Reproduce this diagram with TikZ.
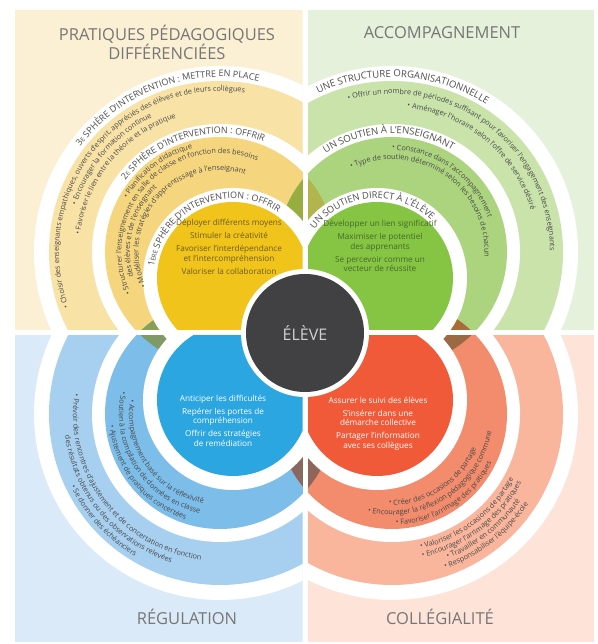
\documentclass[tikz,border=0pt]{standalone}
\usepackage{fontspec}
\setmainfont{Open Sans}
\usetikzlibrary{decorations.text}
\definecolor{ylbg}{HTML}{FCF0D4}
\definecolor{ylr3}{HTML}{F8E2A6}
\definecolor{ylr2}{HTML}{F5D67E}
\definecolor{yld}{HTML}{F0C41B}
\definecolor{grbg}{HTML}{E5F1DA}
\definecolor{grr3}{HTML}{C9E3AB}
\definecolor{grr2}{HTML}{ACD47F}
\definecolor{grd}{HTML}{86C443}
\definecolor{blbg}{HTML}{DBEAF8}
\definecolor{blr3}{HTML}{A7D0F0}
\definecolor{blr2}{HTML}{7DBDE9}
\definecolor{bld}{HTML}{2BA6E0}
\definecolor{rdbg}{HTML}{FDE3D8}
\definecolor{rdr3}{HTML}{F9B69C}
\definecolor{rdr2}{HTML}{F38C6C}
\definecolor{rdd}{HTML}{F05A39}
\definecolor{ctr}{HTML}{414042}
\definecolor{lensTa}{HTML}{98AD3F}
\definecolor{lensTb}{HTML}{B1B54C}
\definecolor{lensLa}{HTML}{88A055}
\definecolor{lensLb}{HTML}{7F9A66}
\definecolor{lensRa}{HTML}{A86C3A}
\definecolor{lensRb}{HTML}{9B6A45}
\definecolor{lensBa}{HTML}{8A6862}
\definecolor{lensBb}{HTML}{8F645A}
\definecolor{ttl}{HTML}{767676}
\definecolor{lbl}{HTML}{4D4D4D}
\definecolor{itm}{HTML}{484848}
\definecolor{ydtxt}{HTML}{6E5B1E}
\definecolor{gdtxt}{HTML}{46692B}
\newcommand\itf{\fontsize{7.3}{8}\selectfont}
\newcommand\lbf{\fontsize{9}{10}\selectfont}
\newcommand\lbs{\fontsize{6.3}{7}\selectfont}
\newcommand\lbg{\fontsize{9.6}{10}\selectfont}
\newcommand\lbd{\fontsize{9.3}{10}\selectfont}
\newcommand\atext[6]{\path[shift={(#1)},decorate,decoration={text along path,text align=left,text color=#5,text={#6}}] (#3:#2) arc[start angle=#3,end angle=#4,radius=#2];}
\tikzset{
  title/.style={text=ttl,font=\fontsize{16.5}{19.5}\selectfont,align=center},
  disktext/.style={font=\fontsize{8.2}{9.5}\selectfont,align=center},
}
\begin{document}
\begin{tikzpicture}[x=1pt,y=1pt]
\useasboundingbox (0,0) rectangle (597,644);
\fill[white] (0,0) rectangle (597,644);
\coordinate (RTL) at (220,392); \coordinate (RTR) at (392,392);
\coordinate (RBL) at (220,230); \coordinate (RBR) at (392,230);
\coordinate (DTL) at (233,366); \coordinate (DTR) at (377,366);
\coordinate (DBL) at (233,244); \coordinate (DBR) at (377,244);
\coordinate (O) at (305,311);
% quadrants: background + outer ring
\begin{scope}\clip (15,313.5) rectangle (302.5,634);
 \fill[ylbg] (15,313.5) rectangle (302.5,634);
 \fill[white] (RTL) circle[radius=186]; \fill[ylr3] (RTL) circle[radius=171];
\end{scope}
\begin{scope}\clip (307.5,313.5) rectangle (594,634);
 \fill[grbg] (307.5,313.5) rectangle (594,634);
 \fill[white] (RTR) circle[radius=186]; \fill[grr3] (RTR) circle[radius=171];
\end{scope}
\begin{scope}\clip (15,2) rectangle (302.5,308.5);
 \fill[blbg] (15,2) rectangle (302.5,308.5);
 \fill[white] (RBL) circle[radius=186]; \fill[blr3] (RBL) circle[radius=171];
\end{scope}
\begin{scope}\clip (307.5,2) rectangle (594,308.5);
 \fill[rdbg] (307.5,2) rectangle (594,308.5);
 \fill[white] (RBR) circle[radius=186]; \fill[rdr3] (RBR) circle[radius=171];
\end{scope}
% second rings
\foreach \c in {RTL,RTR,RBL,RBR} \fill[white] (\c) circle[radius=128];
\fill[ylr2] (RTL) circle[radius=115];
\fill[grr2] (RTR) circle[radius=115];
\fill[blr2] (RBL) circle[radius=115];
\fill[rdr2] (RBR) circle[radius=115];
% overlaps
\begin{scope}\clip (RTL) circle[radius=115]; \clip (RTR) circle[radius=115];
 \fill[lensTa] (0,311) rectangle (305,644); \fill[lensTb] (305,311) rectangle (597,644);
\end{scope}
\begin{scope}\clip (RTL) circle[radius=115]; \clip (RBL) circle[radius=115];
 \fill[lensLa] (0,311) rectangle (305,644); \fill[lensLb] (0,0) rectangle (305,311);
\end{scope}
\begin{scope}\clip (RTR) circle[radius=115]; \clip (RBR) circle[radius=115];
 \fill[lensRa] (305,311) rectangle (597,644); \fill[lensRb] (305,0) rectangle (597,311);
\end{scope}
\begin{scope}\clip (RBL) circle[radius=115]; \clip (RBR) circle[radius=115];
 \fill[lensBa] (0,0) rectangle (305,311); \fill[lensBb] (305,0) rectangle (597,311);
\end{scope}
% inner disks
\foreach \c in {DTL,DTR,DBL,DBR} \fill[white] (\c) circle[radius=90];
\begin{scope}\clip (15,313.5) rectangle (302.5,634); \fill[yld] (DTL) circle[radius=76]; \end{scope}
\begin{scope}\clip (307.5,313.5) rectangle (594,634); \fill[grd] (DTR) circle[radius=76]; \end{scope}
\begin{scope}\clip (15,2) rectangle (302.5,308.5); \fill[bld] (DBL) circle[radius=76]; \end{scope}
\begin{scope}\clip (307.5,2) rectangle (594,308.5); \fill[rdd] (DBR) circle[radius=76]; \end{scope}
% gaps
\fill[white] (302.5,0) rectangle (307.5,644);
\fill[white] (0,308.5) rectangle (597,313.5);
% centre
\fill[white] (O) circle[radius=64];
\fill[ctr] (O) circle[radius=59];
\node[text=black!18,font=\fontsize{16}{19}\selectfont] (eleve) at (O) {ÉLÈVE};
% titles
\node[title] (tpd) at (167,601.5) {PRATIQUES PÉDAGOGIQUES\\DIFFÉRENCIÉES};
\node[title] (tacc) at (442,611) {ACCOMPAGNEMENT};
\node[title] (treg) at (187,27) {RÉGULATION};
\node[title] (tcol) at (440,27) {COLLÉGIALITÉ};
% disk texts
\node[disktext,text=ydtxt] (ytxt) at (229,397) {Déployer différents moyens\\[3.5pt]Stimuler la créativité\\[3.5pt]Favoriser l’interdépendance\\et l’intercompréhension\\[3.5pt]Valoriser la collaboration};
\node[disktext,text=gdtxt] (gtxt) at (380,398) {Développer un lien significatif\\[3.5pt]Maximiser le potentiel\\des apprenants\\[3.5pt]Se percevoir comme un\\vecteur de réussite};
\node[disktext,text=white] (btxt) at (223,223.5) {Anticiper les difficultés\\[3.5pt]Repérer les portes de\\compréhension\\[3.5pt]Offrir des stratégies\\de remédiation};
\node[disktext,text=white] (rtxt) at (378,220.5) {Assurer le suivi des élèves\\[3.5pt]S’insérer dans une\\démarche collective\\[3.5pt]Partager l’information\\avec ses collègues};
% labels top-left
\atext{RTL}{175}{143}{30}{lbl}{|\lbf|3|\lbs|E|\lbf| SPHÈRE D’INTERVENTION : METTRE EN PLACE}
\atext{RTL}{118.5}{143}{20}{lbl}{|\lbf|2|\lbs|E|\lbf| SPHÈRE D’INTERVENTION : OFFRIR}
\atext{DTL}{79.5}{172}{10}{lbl}{|\lbf|1|\lbs|ÈRE|\lbf| SPHÈRE D’INTERVENTION : OFFRIR}
% labels top-right
\atext{RTR}{175}{115}{0}{lbl}{|\lbg|UNE STRUCTURE ORGANISATIONNELLE}
\atext{RTR}{118.5}{124}{0}{lbl}{|\lbg|UN SOUTIEN À L’ENSEIGNANT}
\atext{DTR}{79.5}{142}{0}{lbl}{|\lbd|UN SOUTIEN DIRECT À L’ÉLÈVE}
% items top-left
\atext{RTL}{161}{200}{40}{itm}{|\itf|• Choisir des enseignants empathiques, ouverts d’esprit, appréciés des élèves et de leurs collègues}
\atext{RTL}{151}{162}{40}{itm}{|\itf|• Encourager la formation continue}
\atext{RTL}{141}{173}{40}{itm}{|\itf|• Favoriser le lien entre la théorie et la pratique}
\atext{RTL}{107}{150}{40}{itm}{|\itf|• Planification didactique}
\atext{RTL}{98.5}{205}{20}{itm}{|\itf|• Structurer l’enseignement en salle de classe en fonction des besoins}
\atext{RTL}{90}{196}{20}{itm}{|\itf|des élèves et de l’enseignant}
\atext{RTL}{81.5}{205}{20}{itm}{|\itf|• Modéliser les stratégies d’apprentissage à l’enseignant}
% items top-right
\atext{RTR}{158}{106}{-60}{itm}{|\itf|• Offrir un nombre de périodes suffisant pour favoriser l’engagement des enseignants}
\atext{RTR}{145}{84}{-60}{itm}{|\itf|• Aménager l’horaire selon l’offre de service désiré}
\atext{RTR}{102}{90}{-60}{itm}{|\itf|• Constance dans l’accompagnement}
\atext{RTR}{92.5}{116}{-60}{itm}{|\itf|• Type de soutien déterminé selon les besoins de chacun}
% items bottom-left
\atext{RBL}{91}{171}{320}{itm}{|\itf|• Accompagnement basé sur la réflexivité}
\atext{RBL}{101}{167}{320}{itm}{|\itf|• Soutien à la compilation de données en classe}
\atext{RBL}{111}{186}{320}{itm}{|\itf|• Ajustement de pratiques concertées}
\atext{RBL}{147}{172}{320}{itm}{|\itf|• Prévoir des rencontres d’ajustement et de concertation en fonction}
\atext{RBL}{156.5}{188}{320}{itm}{|\itf|des résultats obtenus ou des observations relevées}
\atext{RBL}{166}{206}{320}{itm}{|\itf|• Se donner des échéanciers}
% items bottom-right
\atext{RBR}{91}{268}{400}{itm}{|\itf|• Créer des occasions de partage}
\atext{RBR}{101}{256}{400}{itm}{|\itf|• Encourager la réflexion pédagogique commune}
\atext{RBR}{111}{272}{400}{itm}{|\itf|• Favoriser l’arrimage des pratiques}
\atext{RBR}{138}{282}{400}{itm}{|\itf|• Valoriser les occasions de partage}
\atext{RBR}{146.5}{282}{400}{itm}{|\itf|• Encourager l’arrimage des pratiques}
\atext{RBR}{155}{291}{400}{itm}{|\itf|• Travailler en communauté}
\atext{RBR}{163.5}{289}{400}{itm}{|\itf|• Responsabiliser l’équipe-école}
\end{tikzpicture}
\end{document}
